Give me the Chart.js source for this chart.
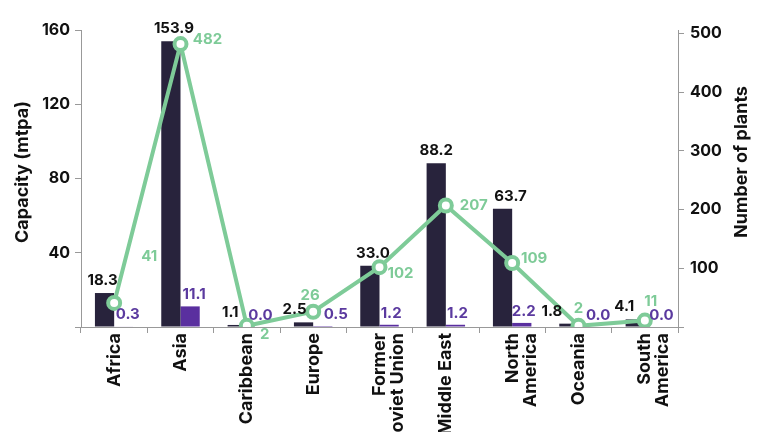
<!DOCTYPE html>
<html>
<head>
<meta charset="utf-8">
<script src="https://cdn.jsdelivr.net/npm/chart.js@4.4.1/dist/chart.umd.min.js"></script>
<style>
  html, body { margin: 0; padding: 0; background: #fff; overflow: hidden; }
  #wrap { width: 768px; height: 432px; position: relative; }
</style>
</head>
<body>
<div id="wrap"><canvas id="chart"></canvas></div>
<script>
const regions = ['Africa', 'Asia', 'Caribbean', 'Europe', ['Former', 'Soviet Union'], 'Middle East', ['North', 'America'], 'Oceania', ['South', 'America']];
const capacityA = [18.3, 153.9, 1.1, 2.5, 33.0, 88.2, 63.7, 1.8, 4.1];
const capacityB = [0.3, 11.1, 0.0, 0.5, 1.2, 1.2, 2.2, 0.0, 0.0];
const plantCounts = [41, 482, 2, 26, 102, 207, 109, 2, 11];
const leftTicks = [0, 40, 80, 120, 160];
const rightTicks = [0, 100, 200, 300, 400, 500];

// label nudges (px) so the value labels don't collide
const lineLabelShift = [[35, -46], [27, -5], [18, 9], [-3, -16], [21, 6], [28, 0], [22, -5], [0, -17], [6, -19]];
const darkLabelShift = [-2, 3, -7, -9, 3, 0, 8, -17, -11];
const purpleLabelShift = [4, 4, 4, 13, 2, 2, 2, 10, 7];

const darkColor = '#28233c';
const purpleColor = '#5a2f9f';
const greenColor = '#7ecb98';
const fontFamily = 'Inter, "Noto Sans", sans-serif';

const labelPlugin = {
    id: 'labels',
    afterDatasetsDraw(chart) {
        const ctx = chart.ctx;
        ctx.save();
        ctx.font = '700 15px ' + fontFamily;
        ctx.textAlign = 'center';
        ctx.textBaseline = 'bottom';
        // bar values
        const darkMeta = chart.getDatasetMeta(1);
        ctx.fillStyle = '#111';
        darkMeta.data.forEach((bar, i) => {
            ctx.fillText(capacityA[i].toFixed(1), bar.x + darkLabelShift[i], bar.y - 5);
        });
        const purpleMeta = chart.getDatasetMeta(2);
        ctx.fillStyle = '#5b3a9f';
        purpleMeta.data.forEach((bar, i) => {
            ctx.fillText(capacityB[i].toFixed(1), bar.x + purpleLabelShift[i], bar.y - 4);
        });
        // line values
        const lineMeta = chart.getDatasetMeta(0);
        ctx.fillStyle = greenColor;
        ctx.textBaseline = 'middle';
        lineMeta.data.forEach((pt, i) => {
            const s = lineLabelShift[i];
            ctx.fillText(String(plantCounts[i]), pt.x + s[0], pt.y + s[1]);
        });
        // axis titles (both read bottom to top)
        ctx.fillStyle = '#111';
        ctx.font = '700 18px ' + fontFamily;
        ctx.translate(23, 172);
        ctx.rotate(-Math.PI / 2);
        ctx.fillText('Capacity (mtpa)', 0, 0);
        ctx.setTransform(1, 0, 0, 1, 0, 0);
        ctx.translate(742, 162);
        ctx.rotate(-Math.PI / 2);
        ctx.fillText('Number of plants', 0, 0);
        ctx.restore();
    }
};

const tickFont = { family: fontFamily, size: 16, weight: '700' };

new Chart(document.getElementById('chart'), {
    data: {
        labels: regions,
        datasets: [
            {
                type: 'line',
                label: 'Number of plants',
                data: plantCounts,
                yAxisID: 'y2',
                borderColor: greenColor,
                borderWidth: 4,
                pointRadius: 6,
                pointBorderWidth: 4,
                pointBackgroundColor: '#fff',
                pointBorderColor: greenColor,
                order: 0
            },
            {
                type: 'bar',
                label: 'Capacity',
                data: capacityA,
                yAxisID: 'y',
                backgroundColor: darkColor,
                categoryPercentage: 0.58,
                barPercentage: 1.0,
                order: 1
            },
            {
                type: 'bar',
                label: 'Capacity 2',
                data: capacityB,
                yAxisID: 'y',
                backgroundColor: purpleColor,
                categoryPercentage: 0.58,
                barPercentage: 1.0,
                order: 1
            }
        ]
    },
    options: {
        responsive: true,
        maintainAspectRatio: false,
        animation: false,
        layout: { padding: { top: 30, left: 0, right: 0, bottom: 0 } },
        plugins: {
            legend: { display: false },
            tooltip: { enabled: false }
        },
        scales: {
            x: {
                offset: true,
                grid: { drawOnChartArea: false, offset: true, color: '#999', tickLength: 6 },
                border: { color: '#999' },
                ticks: {
                    font: { family: fontFamily, size: 18, weight: '700', lineHeight: 1.0 },
                    color: '#111',
                    maxRotation: 90,
                    minRotation: 90,
                    padding: 0
                },
                afterFit(scale) { scale.height = 105; }
            },
            y: {
                position: 'left',
                min: 0,
                max: 160,
                grid: { drawOnChartArea: false, color: '#999', tickLength: 6 },
                border: { color: '#999' },
                ticks: {
                    font: tickFont,
                    color: '#111',
                    padding: 5,
                    callback: v => v === 0 ? '' : v
                },
                afterBuildTicks(scale) { scale.ticks = leftTicks.map(v => ({ value: v })); },
                afterFit(scale) { scale.width = 81; }
            },
            y2: {
                position: 'right',
                min: 0,
                max: 506,
                grid: { drawOnChartArea: false, color: '#999', tickLength: 6 },
                border: { color: '#999' },
                ticks: {
                    font: tickFont,
                    color: '#111',
                    padding: 6,
                    callback: v => v === 0 ? '' : v
                },
                afterBuildTicks(scale) { scale.ticks = rightTicks.map(v => ({ value: v })); },
                afterFit(scale) { scale.width = 90; }
            }
        }
    },
    plugins: [labelPlugin]
});
</script>
</body>
</html>
